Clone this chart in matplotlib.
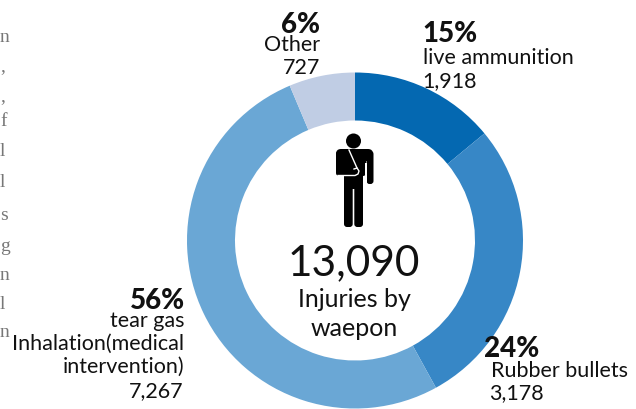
import matplotlib
matplotlib.use("Agg")
import matplotlib.pyplot as plt
from matplotlib.patches import Circle, FancyBboxPatch, Rectangle

plt.rcParams['font.family'] = ['Lato', 'DejaVu Sans']

# the printed numbers and the drawn arcs don't agree in the source chart,
# so the arcs are measured off the ring and the numbers stay as labels
categories = ['live ammunition', 'Rubber bullets', 'tear gas Inhalation', 'Other']
arc_shares = [14.0, 28.0, 51.65, 6.35]
percents = ['15%', '24%', '56%', '6%']
counts = ['1,918', '3,178', '7,267', '727']
colors = ['#0468B1', '#3787C6', '#6AA7D5', '#C0CDE4']
total_label = '13,090'
margin_letters = ['n', ',', ',', 'f', 'l', 'l', 's', 'g', 'n', 'l', 'n']
margin_y = [38, 67, 97, 122, 152, 183, 216, 247, 276, 305, 333]

W, H = 636, 410
fig = plt.figure(figsize=(W / 100, H / 100), dpi=100)
ax = fig.add_axes([0, 0, 1, 1])

# y axis is inverted, so start at -90 to get the top of the ring, clockwise on screen
ax.pie(arc_shares, colors=colors, startangle=-90, counterclock=True,
       center=(355, 241.5), radius=168, frame=True,
       wedgeprops=dict(width=48, linewidth=0))
ax.set_xlim(0, W)
ax.set_ylim(H, 0)
ax.set_aspect('auto')
ax.axis('off')


def label(x, y, s, size=15.5, ha='left', weight='normal'):
    ax.text(x, y, s, fontsize=size, ha=ha, va='center', weight=weight, color='#111111')


# percent + label blocks
label(422, 34, percents[0], 20, weight='black')
label(423, 58, categories[0])
label(422, 81, counts[0])

label(320, 25, percents[3], 20, ha='right', weight='black')
label(320, 45, categories[3], ha='right')
label(320, 68, counts[3], ha='right')

label(185, 301, percents[2], 20, ha='right', weight='black')
label(184, 321, 'tear gas', ha='right')
label(184, 344, 'Inhalation(medical', ha='right')
label(184, 367, 'intervention)', ha='right')
label(184, 391, counts[2], ha='right')

label(484, 349, percents[1], 20, weight='black')
label(491, 371, categories[1])
label(489, 393, counts[1])

# centre
label(354, 263, total_label, 30.5, ha='center')
label(354, 300, 'Injuries by', 18, ha='center')
label(354, 329, 'waepon', 18, ha='center')

# leftovers of the body text at the left edge
for letter, y in zip(margin_letters, margin_y):
    ax.text(0, y, letter, fontsize=14, family='Liberation Serif', color='#777777', va='center')


def limb(x, y, w, h, r=3):
    ax.add_patch(FancyBboxPatch((x, y), w, h, boxstyle=f'round,pad=0,rounding_size={r}', color='black', lw=0))


# injured person icon
ax.add_patch(Circle((353.5, 142), 7.5, color='black', lw=0))
limb(336, 150, 37, 12, 5)
limb(336, 152, 30, 25, 3)
limb(366.5, 152, 7, 33)
limb(344, 160, 19, 30, 0)
limb(344, 178, 8.7, 50)
limb(354.3, 178, 8.7, 50)
ax.add_patch(Rectangle((365, 164), 1.5, 21, color='white', lw=0))
# sling
ax.plot([349, 357], [151, 169], color='white', lw=1)
ax.plot([338, 355, 358, 359, 357, 354], [176.5, 176.5, 175, 172, 169, 170], color='white', lw=1)

fig.savefig('out.png', dpi=100)
